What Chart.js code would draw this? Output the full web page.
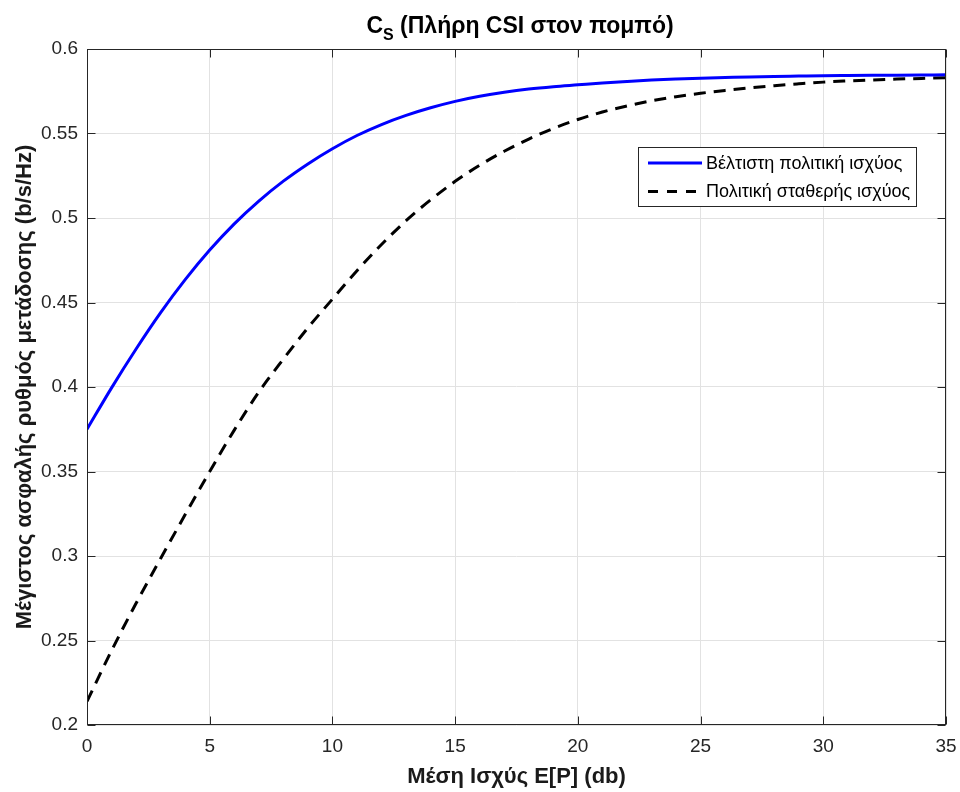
<!DOCTYPE html>
<html>
<head>
<meta charset="utf-8">
<script src="https://cdn.jsdelivr.net/npm/chart.js@4.4.1/dist/chart.umd.min.js"></script>
<style>
  html, body { margin: 0; padding: 0; background: #fff; }
</style>
</head>
<body>
<canvas id="myChart" width="960" height="792"></canvas>
<script>
const powerDb = [0, 1, 2, 3, 4, 5, 6, 7, 8, 9, 10, 11, 12, 13, 14, 15, 16, 17,
    18, 19, 20, 21, 22, 23, 24, 25, 26, 27, 28, 29, 30, 31, 32, 33, 34, 35];

const optimalPolicy = [0.3750, 0.3995, 0.4225, 0.4440, 0.4635, 0.4810, 0.4965, 0.5100, 0.5218, 0.5320,
    0.5410, 0.5488, 0.5553, 0.5607, 0.5652, 0.5690, 0.5720, 0.5744, 0.5763, 0.5777,
    0.5788, 0.5799, 0.5808, 0.5816, 0.5822, 0.5827, 0.5831, 0.5835, 0.5838, 0.5840,
    0.5842, 0.5843, 0.5844, 0.5845, 0.5846, 0.5847];

const constantPolicy = [0.2140, 0.2440, 0.2720, 0.2985, 0.3245, 0.3500, 0.3745, 0.3970, 0.4165, 0.4350,
    0.4520, 0.4688, 0.4843, 0.4984, 0.5107, 0.5217, 0.5312, 0.5395, 0.5467, 0.5530,
    0.5583, 0.5627, 0.5663, 0.5693, 0.5718, 0.5738, 0.5755, 0.5770, 0.5783, 0.5794,
    0.5804, 0.5811, 0.5817, 0.5822, 0.5826, 0.5830];

const seriesLabels = ['Βέλτιστη πολιτική ισχύος', 'Πολιτική σταθερής ισχύος'];

const xTicks = [0, 5, 10, 15, 20, 25, 30, 35];
const yTicks = [0.2, 0.25, 0.3, 0.35, 0.4, 0.45, 0.5, 0.55, 0.6];

const FONT = '"Liberation Sans", Arial, Helvetica, sans-serif';
const AXIS_COLOR = '#262626';

// title with subscript, box round the axes with inward ticks, legend inside the plot
const matlabLook = {
    id: 'matlabLook',
    afterDraw(chart) {
        const {ctx, chartArea: a, scales: {x, y}} = chart;
        ctx.save();

        // legend
        const lx = 638.5, ly = 147.5, lw = 278, lh = 59;
        ctx.fillStyle = '#fff';
        ctx.fillRect(lx, ly, lw, lh);
        ctx.strokeStyle = AXIS_COLOR;
        ctx.lineWidth = 1;
        ctx.strokeRect(lx, ly, lw, lh);
        chart.data.datasets.forEach((ds, i) => {
            const yy = 163 + i * 28.5;
            ctx.strokeStyle = ds.borderColor;
            ctx.lineWidth = 3;
            ctx.setLineDash(i === 0 ? [] : [10, 9]);
            ctx.beginPath();
            ctx.moveTo(648, yy);
            ctx.lineTo(702, yy);
            ctx.stroke();
            ctx.setLineDash([]);
            ctx.fillStyle = '#000';
            ctx.font = '18px ' + FONT;
            ctx.textAlign = 'left';
            ctx.textBaseline = 'middle';
            ctx.fillText(ds.label, 706, yy + 1);
        });

        // box
        ctx.strokeStyle = AXIS_COLOR;
        ctx.lineWidth = 1;
        const L = Math.round(a.left) + 0.5, R = Math.round(a.right) - 0.5;
        const T = Math.round(a.top) + 0.5, B = Math.round(a.bottom) - 0.5;
        ctx.strokeRect(L, T, R - L, B - T);
        ctx.beginPath();
        xTicks.forEach(v => {
            const px = Math.round(x.getPixelForValue(v)) + 0.5;
            ctx.moveTo(px, B); ctx.lineTo(px, B - 8);
            ctx.moveTo(px, T); ctx.lineTo(px, T + 8);
        });
        yTicks.forEach(v => {
            const py = Math.round(y.getPixelForValue(v)) + 0.5;
            ctx.moveTo(L, py); ctx.lineTo(L + 8, py);
            ctx.moveTo(R, py); ctx.lineTo(R - 8, py);
        });
        ctx.stroke();

        // title: C_S (...)
        const main = 'bold 23px ' + FONT, sub = 'bold 16px ' + FONT;
        const rest = ' (Πλήρη CSI στον πομπό)';
        ctx.font = main;
        const wC = ctx.measureText('C').width, wR = ctx.measureText(rest).width;
        ctx.font = sub;
        const wS = ctx.measureText('S').width;
        let tx = 520 - (wC + wS + wR) / 2;
        ctx.fillStyle = '#000';
        ctx.textAlign = 'left';
        ctx.textBaseline = 'alphabetic';
        ctx.font = main;
        ctx.fillText('C', tx, 33);
        tx += wC;
        ctx.font = sub;
        ctx.fillText('S', tx, 40);
        tx += wS;
        ctx.font = main;
        ctx.fillText(rest, tx, 33);

        ctx.restore();
    }
};

const data = {
    datasets: [
        {
            label: seriesLabels[0],
            data: powerDb.map((p, i) => ({x: p, y: optimalPolicy[i]})),
            borderColor: '#0000ff',
            borderWidth: 3,
            pointRadius: 0,
            cubicInterpolationMode: 'monotone',
            fill: false,
        },
        {
            label: seriesLabels[1],
            data: powerDb.map((p, i) => ({x: p, y: constantPolicy[i]})),
            borderColor: '#000000',
            borderWidth: 3,
            borderDash: [12, 8],
            pointRadius: 0,
            cubicInterpolationMode: 'monotone',
            fill: false,
        }
    ]
};

const config = {
    type: 'line',
    data: data,
    options: {
        responsive: false,
        animation: false,
        layout: {
            padding: {top: 49, right: 14, left: 0, bottom: 0}
        },
        plugins: {
            legend: {display: false},
            title: {display: false},
            tooltip: {enabled: false}
        },
        scales: {
            x: {
                type: 'linear',
                min: 0,
                max: 35,
                afterBuildTicks: s => { s.ticks = xTicks.map(v => ({value: v})); },
                afterFit: s => { s.height = 67; s.paddingLeft = 0; s.paddingRight = 0; },
                grid: {color: '#e2e2e2', drawTicks: false},
                border: {display: false},
                ticks: {
                    color: AXIS_COLOR,
                    padding: 10,
                    font: {family: FONT, size: 19},
                    callback: v => String(v)
                },
                title: {
                    display: true,
                    text: 'Μέση Ισχύς E[P] (db)',
                    color: '#1a1a1a',
                    font: {family: FONT, size: 22, weight: 'bold'},
                    padding: {top: 0, bottom: 2}
                }
            },
            y: {
                type: 'linear',
                min: 0.2,
                max: 0.6,
                afterBuildTicks: s => { s.ticks = yTicks.map(v => ({value: v})); },
                afterFit: s => { s.width = 87; s.paddingTop = 0; s.paddingBottom = 0; },
                grid: {color: '#e2e2e2', drawTicks: false},
                border: {display: false},
                ticks: {
                    color: AXIS_COLOR,
                    padding: 9,
                    font: {family: FONT, size: 19},
                    callback: v => String(+v.toFixed(2))
                },
                title: {
                    display: true,
                    text: 'Μέγιστος ασφαλής ρυθμός μετάδοσης (b/s/Hz)',
                    color: '#1a1a1a',
                    font: {family: FONT, size: 22, weight: 'bold'},
                    padding: {top: 12, bottom: 0}
                }
            }
        }
    },
    plugins: [matlabLook]
};

const myChart = new Chart(
    document.getElementById('myChart'),
    config
);
</script>
</body>
</html>
